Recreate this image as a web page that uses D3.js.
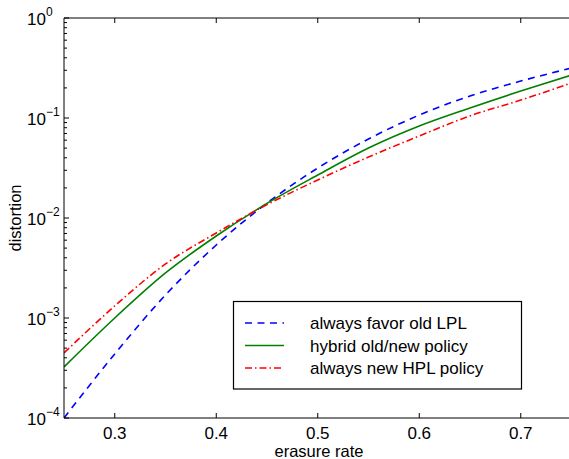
<!DOCTYPE html>
<html>
<head>
<meta charset="utf-8">
<script src="https://cdn.jsdelivr.net/npm/d3@7"></script>
<style>
  html, body { margin: 0; padding: 0; background: #fff; overflow: hidden; }
  svg { display: block; overflow: hidden; font-family: "Liberation Sans", Arial, sans-serif; }
</style>
</head>
<body>
<svg id="chart" width="569" height="459"></svg>
<script>
// ---- data ----
const erasureRate = [0.25, 0.30, 0.35, 0.40, 0.45, 0.50, 0.55, 0.60, 0.65, 0.70, 0.75];
const favorOldLPL = [1.0e-4, 4.37e-4, 1.70e-3, 5.37e-3, 1.41e-2, 3.16e-2, 6.17e-2, 0.107, 0.166, 0.234, 0.316];
const hybridPolicy = [3.24e-4, 1.0e-3, 2.82e-3, 6.61e-3, 1.40e-2, 2.69e-2, 5.01e-2, 8.32e-2, 0.126, 0.186, 0.269];
const newHPLPolicy = [4.47e-4, 1.32e-3, 3.47e-3, 7.08e-3, 1.36e-2, 2.40e-2, 4.07e-2, 6.61e-2, 0.105, 0.151, 0.224];
const seriesNames = ["always favor old LPL", "hybrid old/new policy", "always new HPL policy"];
const xTicks = [0.3, 0.4, 0.5, 0.6, 0.7];
const xTickLabels = ["0.3", "0.4", "0.5", "0.6", "0.7"];
const yExponents = [0, -1, -2, -3, -4];
const xLabel = "erasure rate";
const yLabel = "distortion";

// ---- layout ----
const W = 569;
const svg = d3.select("#chart");
const L = 64, R = 571.5, T = 18, B = 418;
const x = d3.scaleLinear().domain([0.25, 0.75]).range([L, R]);
const y = d3.scaleLog().domain([1e-4, 1]).range([B, T]);

const styles = [
  { color: "#0000ff", dash: "7,5.5", width: 1.6 },
  { color: "#008000", dash: null, width: 1.6 },
  { color: "#ff0000", dash: "7,3,1.5,3", width: 1.6 }
];
const allSeries = [favorOldLPL, hybridPolicy, newHPLPolicy];

const defs = svg.append("defs");
defs.append("clipPath").attr("id", "clip")
  .append("rect").attr("x", L).attr("y", T).attr("width", Math.min(R, W) - L).attr("height", B - T);
defs.append("clipPath").attr("id", "page")
  .append("rect").attr("x", 0).attr("y", 0).attr("width", W).attr("height", 459);

const root = svg.append("g").attr("clip-path", "url(#page)");

// ---- curves ----
const line = d3.line()
  .x(d => x(d[0])).y(d => y(d[1]))
  .curve(d3.curveMonotoneX);
const plot = root.append("g").attr("clip-path", "url(#clip)");
allSeries.forEach((vals, i) => {
  const pts = erasureRate.map((r, j) => [r, vals[j]]);
  plot.append("path")
    .attr("d", line(pts))
    .attr("fill", "none")
    .attr("stroke", styles[i].color)
    .attr("stroke-width", styles[i].width)
    .attr("stroke-dasharray", styles[i].dash);
});

// ---- axes (box with inward ticks; right side lies past the window edge) ----
const ax = root.append("g").attr("stroke", "#000").attr("stroke-width", 1).attr("fill", "none");
ax.append("line").attr("x1", L).attr("x2", W).attr("y1", T).attr("y2", T);
ax.append("line").attr("x1", L).attr("x2", W).attr("y1", B).attr("y2", B);
ax.append("line").attr("x1", L).attr("x2", L).attr("y1", T).attr("y2", B);

xTicks.forEach(v => {
  ax.append("line").attr("x1", x(v)).attr("x2", x(v)).attr("y1", B).attr("y2", B - 5);
  ax.append("line").attr("x1", x(v)).attr("x2", x(v)).attr("y1", T).attr("y2", T + 5);
});
yExponents.forEach(e => {
  const yy = y(Math.pow(10, e));
  ax.append("line").attr("x1", L).attr("x2", L + 5).attr("y1", yy).attr("y2", yy);
  if (e > -4) {
    for (let k = 2; k <= 9; k++) {
      const ym = y(k * Math.pow(10, e - 1));
      ax.append("line").attr("x1", L).attr("x2", L + 3).attr("y1", ym).attr("y2", ym);
    }
  }
});

// ---- tick labels ----
const txt = root.append("g").attr("fill", "#000").attr("font-size", 17);
xTicks.forEach((v, i) => {
  txt.append("text").attr("x", x(v)).attr("y", 438.5).attr("text-anchor", "middle").text(xTickLabels[i]);
});
yExponents.forEach(e => {
  const yy = y(Math.pow(10, e));
  const t = txt.append("text").attr("x", 27).attr("y", yy + 7);
  t.append("tspan").text("10");
  t.append("tspan").attr("font-size", 12).attr("dy", -9).text(e === 0 ? "0" : "\u2212" + Math.abs(e));
});

// ---- axis labels ----
txt.append("text").attr("x", 319).attr("y", 456.5).attr("text-anchor", "middle")
  .attr("font-size", 16.5).text(xLabel);
txt.append("text").attr("transform", "translate(21," + 218 + ") rotate(-90)")
  .attr("text-anchor", "middle").attr("font-size", 16.5).text(yLabel);

// ---- legend ----
const lg = root.append("g");
lg.append("rect").attr("x", 233.5).attr("y", 301.5).attr("width", 288).attr("height", 87.5)
  .attr("fill", "#fff").attr("stroke", "#000").attr("stroke-width", 1.2);
const rowY = [323, 345.5, 368];
seriesNames.forEach((name, i) => {
  lg.append("line").attr("x1", 245).attr("x2", 284).attr("y1", rowY[i]).attr("y2", rowY[i])
    .attr("stroke", styles[i].color).attr("stroke-width", styles[i].width)
    .attr("stroke-dasharray", styles[i].dash);
  lg.append("text").attr("x", 310).attr("y", rowY[i] + 6).attr("font-size", 17).text(name);
});
</script>
</body>
</html>
